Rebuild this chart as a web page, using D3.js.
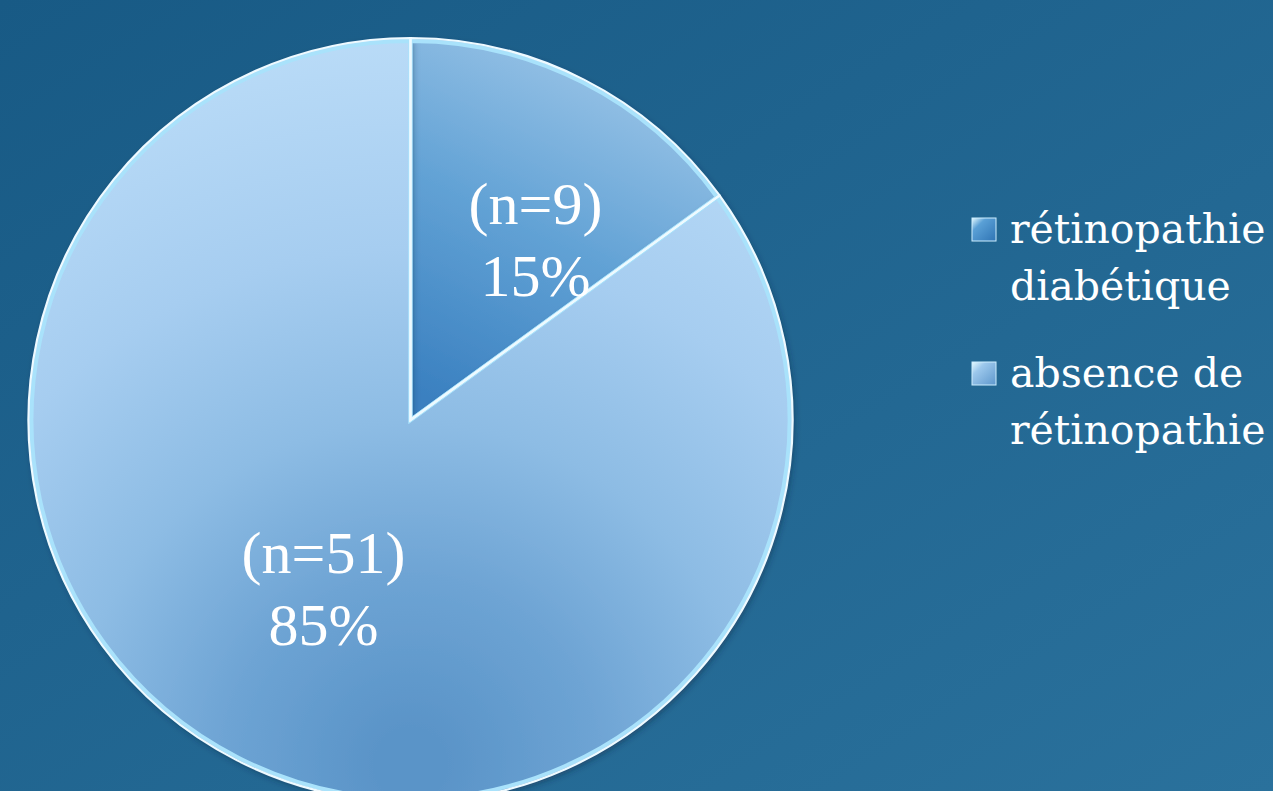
<!DOCTYPE html>
<html><head><meta charset="utf-8">
<script src="https://cdn.jsdelivr.net/npm/d3@7"></script>
<style>html,body{margin:0;padding:0;overflow:hidden;background:#1e6590;}</style>
</head><body>
<svg id="chart" width="1273" height="791"></svg>
<script>
const categories = ["rétinopathie diabétique", "absence de rétinopathie"];
const counts = [9, 51];
const percentLabels = ["15%", "85%"];
const countLabels = ["(n=9)", "(n=51)"];
const legendLines = [["rétinopathie", "diabétique"], ["absence de", "rétinopathie"]];

const W = 1273, H = 791;
const cx = 410.5, cy = 420, R = 382;
const svg = d3.select("#chart");
const defs = svg.append("defs");

// background gradient
const bg = defs.append("linearGradient").attr("id","bg").attr("x1","0").attr("y1","0").attr("x2","1").attr("y2","1");
bg.append("stop").attr("offset","0").attr("stop-color","#185a85");
bg.append("stop").attr("offset","1").attr("stop-color","#2a719c");
svg.append("rect").attr("width",W).attr("height",H).attr("fill","url(#bg)");

// slice gradients (local coords, centre at 0,0)
const g1 = defs.append("linearGradient").attr("id","s0").attr("x1","0.6").attr("y1","0").attr("x2","0.2").attr("y2","1");
g1.append("stop").attr("offset","0").attr("stop-color","#9dc6e8");
g1.append("stop").attr("offset","0.5").attr("stop-color","#62a2d5");
g1.append("stop").attr("offset","1").attr("stop-color","#3a80c0");
const g2 = defs.append("radialGradient").attr("id","s1").attr("gradientUnits","userSpaceOnUse")
  .attr("cx",0).attr("cy",0.9*R).attr("r",1.9*R);
[[0.05,"#5a94c8"],[0.26,"#6ea4d4"],[0.47,"#8dbce4"],[0.71,"#a6cdf0"],[1,"#b9dbf7"]].forEach(s=>
  g2.append("stop").attr("offset",s[0]).attr("stop-color",s[1]));

const sh = defs.append("filter").attr("id","shadow").attr("x","-10%").attr("y","-10%").attr("width","120%").attr("height","120%");
sh.append("feDropShadow").attr("dx",2).attr("dy",3).attr("stdDeviation",3).attr("flood-color","#0a2a44").attr("flood-opacity",0.5);

const pie = d3.pie().sort(null).value(d => d)(counts);
const arc = d3.arc().innerRadius(0).outerRadius(R);
const arcInner = d3.arc().innerRadius(0).outerRadius(R - 3);

const gPie = svg.append("g").attr("transform",`translate(${cx},${cy})`);
gPie.selectAll("path.base").data(pie).enter().append("path")
  .attr("class","base").attr("d",arc).attr("fill",(d,i)=>`url(#s${i})`)
  .attr("filter","url(#shadow)");
// light bevel strokes
gPie.selectAll("path.stroke").data(pie).enter().append("path")
  .attr("class","stroke").attr("d",arcInner).attr("fill","none")
  .attr("stroke","#a9e2fb").attr("stroke-width",4).attr("stroke-linejoin","miter");
gPie.selectAll("path.stroke2").data(pie).enter().append("path")
  .attr("class","stroke2").attr("d",arc).attr("fill","none")
  .attr("stroke","#eefaff").attr("stroke-width",2.2);

// labels
const labelOffsets = [[0.52, 12], [0.56, -3]]; // radius fraction, angle shift in degrees
const gl = svg.append("g").attr("transform",`translate(${cx},${cy})`);
pie.forEach((d,i) => {
  const a = (d.startAngle + d.endAngle)/2 + labelOffsets[i][1]*Math.PI/180;
  const r = R*labelOffsets[i][0];
  const x = r*Math.sin(a), y = -r*Math.cos(a);
  const t = gl.append("text").attr("text-anchor","middle")
    .attr("font-family","'Liberation Serif','Times New Roman',serif").attr("font-size",60).attr("fill","#ffffff");
  t.append("tspan").attr("x",x).attr("y",y-42).text(countLabels[i]);
  t.append("tspan").attr("x",x).attr("y",y+30).text(percentLabels[i]);
});

// legend
[0,1].forEach(i=>{
  const grad = defs.append("linearGradient").attr("id","lg"+i).attr("x1","0").attr("y1","0").attr("x2","1").attr("y2","1");
  grad.append("stop").attr("offset","0").attr("stop-color","#e6fbff");
  grad.append("stop").attr("offset","0.3").attr("stop-color", i===0?"#5aa0d6":"#9cc8ec");
  grad.append("stop").attr("offset","1").attr("stop-color", i===0?"#2f74b4":"#5e97cc");
});
const legend = svg.append("g").attr("transform","translate(972,0)");
const legY = [218, 362];
categories.forEach((c,i)=>{
  const g = legend.append("g").attr("transform",`translate(0,${legY[i]})`);
  g.append("rect").attr("width",24).attr("height",23).attr("fill",`url(#lg${i})`)
   .attr("stroke","#cdeeff").attr("stroke-width",1);
  const t = g.append("text").attr("font-family","'DejaVu Serif',serif").attr("font-size",41).attr("fill","#ffffff");
  legendLines[i].forEach((ln,j)=>{
    t.append("tspan").attr("x",38).attr("y",25 + j*57).text(ln);
  });
});
</script>
</body></html>
